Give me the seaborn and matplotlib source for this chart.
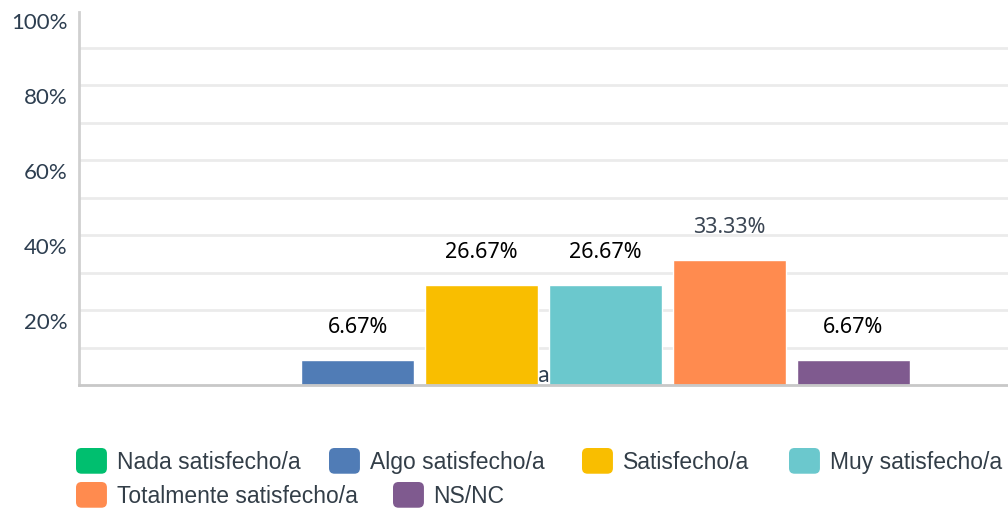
import pandas as pd
import matplotlib
matplotlib.use('Agg')
import matplotlib.pyplot as plt
import matplotlib.transforms as mtransforms
from matplotlib.patches import Patch, FancyBboxPatch
from matplotlib.legend_handler import HandlerPatch
import seaborn as sns

# ============================================================================
# DATA
# ============================================================================

question = ['a']
answers = ['Nada satisfecho/a', 'Algo satisfecho/a', 'Satisfecho/a',
           'Muy satisfecho/a', 'Totalmente satisfecho/a', 'NS/NC']
percent = [0.0, 6.67, 26.67, 26.67, 33.33, 6.67]
colors = ['#00BF6F', '#507CB6', '#F9BE00', '#6BC8CD', '#FF8B4F', '#7F5A8F']
label_colors = ['#000000', '#000000', '#000000', '#000000', '#3b4654', '#000000']
y_ticks = [20, 40, 60, 80, 100]
y_ticklabels = ['20%', '40%', '60%', '80%', '100%']

df = pd.DataFrame({'question': question * len(answers),
                   'answer': answers,
                   'percent': percent})

# ============================================================================
# PLOT
# ============================================================================

sns.set_style('white')
fig = plt.figure(figsize=(10.08, 5.12), dpi=100)
ax = fig.add_axes([79 / 1008, 1 - 385 / 512, 1 - 79 / 1008, 375 / 512])

sns.barplot(data=df, x='question', y='percent', hue='answer',
            hue_order=answers, palette=colors, saturation=1, errorbar=None,
            gap=0.09, legend=False, ax=ax)

ax.set_xlim(-0.5, 0.5)
ax.set_ylim(0, 100)
ax.set_xlabel('')
ax.set_ylabel('')

# grid every 10%, labels every 20%
ax.set_yticks(y_ticks)
ax.set_yticklabels(y_ticklabels)
ax.set_yticks([10, 30, 50, 70, 90], minor=True)
ax.grid(axis='y', which='both', color='#ebebeb', linewidth=2)
ax.yaxis.get_gridlines()[-1].set_visible(False)  # no line on the 100% top
ax.set_axisbelow(True)
ax.tick_params(axis='both', which='both', length=0)
ax.tick_params(axis='y', pad=8, labelsize=16, labelcolor='#2d3e50')
ax.tick_params(axis='x', pad=-2, labelsize=17, labelcolor='#2d3e50')
for lbl in ax.get_yticklabels():
    lbl.set_fontfamily('Lato')
    lbl.set_transform(lbl.get_transform() +
                      mtransforms.ScaledTranslation(0, -0.11, fig.dpi_scale_trans))
for lbl in ax.get_xticklabels():
    lbl.set_fontfamily('Lato')
    lbl.set_verticalalignment('baseline')

sns.despine(ax=ax, top=True, right=True)
ax.spines['left'].set_color('#d0d0d0')
ax.spines['left'].set_linewidth(2)
ax.spines['left'].set_bounds(0, 99.5)
ax.spines['bottom'].set_color('#c8c8c8')
ax.spines['bottom'].set_linewidth(2)

# value labels
for cont, val, col in zip(ax.containers, percent, label_colors):
    txt = '' if val == 0 else f'{val:.2f}%'
    ax.bar_label(cont, labels=[txt], padding=16, fontsize=15.5,
                 fontfamily='Noto Sans', color=col)

# ============================================================================
# LEGEND (flowing rows, one entry per legend box)
# ============================================================================

def rounded_patch(legend, orig_handle, xdescent, ydescent, width, height, fontsize):
    return FancyBboxPatch((-xdescent, -ydescent), width, height,
                          boxstyle='round,pad=0,rounding_size=4')

leg_kw = dict(frameon=False, prop={'family': 'Liberation Sans', 'size': 16.5},
              handlelength=1.35, handleheight=1.35, handletextpad=0.42,
              borderpad=0, borderaxespad=0, labelcolor='#333e48',
              loc='upper left',
              handler_map={Patch: HandlerPatch(patch_func=rounded_patch)})

# swatch left edges (px) and row tops (px) as in the original layout
slots = [(76, 448), (329, 448), (582, 448), (789, 448), (76, 482), (393, 482)]
for name, col, (sx, sy) in zip(answers, colors, slots):
    fig.legend([Patch(facecolor=col, edgecolor='none')], [name],
               bbox_to_anchor=(sx / 1008, 1 - sy / 512), **leg_kw)

plt.savefig('out.png', dpi=100)
plt.close()
